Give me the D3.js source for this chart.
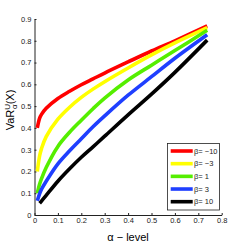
<!DOCTYPE html>
<html>
<head>
<meta charset="utf-8">
<script src="https://cdn.jsdelivr.net/npm/d3@7"></script>
<style>
  body { margin: 0; background: #fff; }
  svg text { font-family: "Liberation Sans", Arial, sans-serif; }
</style>
</head>
<body>
<svg id="chart" width="245" height="245"></svg>
<script>
const alphas = [0.012, 0.022, 0.03, 0.05, 0.1, 0.15, 0.2, 0.25, 0.3, 0.4, 0.5, 0.6, 0.738];

const betaNeg10 = [0.40, 0.445, 0.462, 0.49, 0.535, 0.568, 0.598, 0.625, 0.652, 0.703, 0.753, 0.80, 0.868];
const betaNeg3  = [0.20, 0.272, 0.305, 0.36, 0.44, 0.495, 0.54, 0.578, 0.612, 0.675, 0.735, 0.79, 0.86];
const beta1     = [0.10, 0.142, 0.167, 0.218, 0.315, 0.38, 0.435, 0.488, 0.537, 0.62, 0.688, 0.755, 0.848];
const beta3     = [0.065, 0.098, 0.118, 0.155, 0.235, 0.295, 0.35, 0.405, 0.455, 0.55, 0.635, 0.72, 0.828];
const beta10    = [null, 0.054, 0.064, 0.09, 0.155, 0.212, 0.265, 0.313, 0.362, 0.46, 0.555, 0.655, 0.803];

const seriesNames = ['β= −10', 'β= −3', 'β= 1', 'β= 3', 'β= 10'];
const seriesColors = ['#ff0000', '#ffff00', '#55ee00', '#1f3fff', '#000000'];
const seriesValues = [betaNeg10, betaNeg3, beta1, beta3, beta10];

const xTicks = [0, 0.1, 0.2, 0.3, 0.4, 0.5, 0.6, 0.7, 0.8];
const yTicks = [0, 0.1, 0.2, 0.3, 0.4, 0.5, 0.6, 0.7, 0.8, 0.9];

const svg = d3.select('#chart');

const x = d3.scaleLinear().domain([0, 0.8]).range([34.5, 221.7]);
const y = d3.scaleLinear().domain([0, 0.9]).range([215, 19]);

// axes (matlab style, ticks inside)
const xAxis = svg.append('g')
  .attr('transform', 'translate(0,215)')
  .call(d3.axisBottom(x).tickValues(xTicks).tickSizeInner(-2).tickSizeOuter(0)
    .tickFormat(d => d === 0 ? '0' : d3.format('.1f')(d)));
xAxis.selectAll('text').attr('dy', '0.2em').attr('y', 6);

const yAxis = svg.append('g')
  .attr('transform', 'translate(34.5,0)')
  .call(d3.axisLeft(y).tickValues(yTicks).tickSizeInner(-2).tickSizeOuter(0)
    .tickFormat(d => d === 0 ? '0' : d3.format('.1f')(d)));
yAxis.selectAll('text').attr('x', -3);

svg.selectAll('.domain').attr('stroke', '#222').attr('stroke-width', 1);
svg.selectAll('.tick line').attr('stroke', '#222');
svg.selectAll('.tick text').attr('font-size', 7.5).attr('fill', '#222');

const line = d3.line()
  .defined(d => d[1] !== null)
  .x(d => x(d[0]))
  .y(d => y(d[1]))
  .curve(d3.curveCatmullRom.alpha(0.5));

seriesValues.forEach((vals, i) => {
  svg.append('path')
    .datum(alphas.map((a, j) => [a, vals[j]]))
    .attr('d', line)
    .attr('fill', 'none')
    .attr('stroke', seriesColors[i])
    .attr('stroke-width', 3.6);
});

// labels
svg.append('text')
  .attr('x', 128).attr('y', 241)
  .attr('text-anchor', 'middle')
  .attr('font-size', 11)
  .text('α − level');

const yl = svg.append('text')
  .attr('transform', 'translate(14,110) rotate(-90)')
  .attr('text-anchor', 'middle')
  .attr('font-size', 11);
yl.append('tspan').text('VaR');
yl.append('tspan').attr('font-size', 8).attr('dy', -4).text('U');
yl.append('tspan').attr('font-size', 8).attr('dx', -5).attr('dy', 7).text('α');
yl.append('tspan').attr('dy', -3).text('(X)');

// legend
const legend = svg.append('g');
legend.append('rect')
  .attr('x', 167.5).attr('y', 143.5)
  .attr('width', 52).attr('height', 66.5)
  .attr('fill', '#fff').attr('stroke', '#222').attr('stroke-width', 0.8);

const ly = d3.scalePoint().domain(seriesNames).range([151, 201.7]);
seriesNames.forEach((name, i) => {
  legend.append('line')
    .attr('x1', 170.7).attr('x2', 192.7)
    .attr('y1', ly(name)).attr('y2', ly(name))
    .attr('stroke', seriesColors[i]).attr('stroke-width', 3.6);
  legend.append('text')
    .attr('x', 194).attr('y', ly(name))
    .attr('dy', '0.35em')
    .attr('font-size', 7.5)
    .attr('fill', '#222')
    .text(name);
});
</script>
</body>
</html>
